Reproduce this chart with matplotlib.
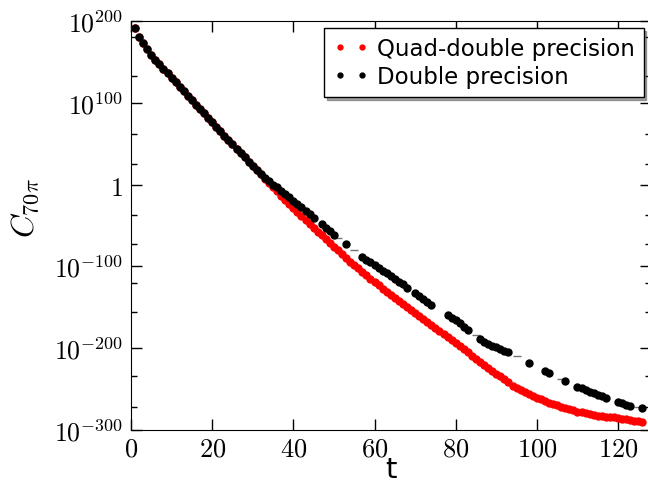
import numpy as np
import matplotlib
matplotlib.use("Agg")
import matplotlib.pyplot as plt
from matplotlib.ticker import FixedLocator, NullFormatter

plt.rcParams['mathtext.fontset'] = 'cm'
plt.rcParams['font.family'] = 'DejaVu Sans'

# time steps
t_quad = list(range(1, 127))
# log10 of C_{70pi}, quad-double precision
log_quad = [192, 181, 173, 166, 159, 152.5, 147, 141.5, 136, 130.5,
            125, 119.5, 114, 108.5, 103, 97.5, 92.5, 87, 81.5, 76,
            70.5, 65.5, 60, 54.5, 49.5, 44, 38.5, 33.5, 28, 23,
            17.5, 12.5, 7, 2, -3, -8, -13.5, -18.5, -23.5, -28.5,
            -33, -38, -43, -48, -52.5, -57.5, -62, -66.5, -71, -76,
            -80.5, -85, -89.5, -94, -98, -102.5, -107, -111, -115, -119,
            -123, -127, -131, -135, -139, -142.5, -146, -149.5, -153, -157,
            -160.5, -164, -167.5, -171.5, -175, -179, -183, -186.5, -190, -194,
            -197.5, -201, -205, -209, -213, -217, -220.5, -224, -227.5, -231,
            -234, -237.5, -241, -246, -249, -251.5, -254, -256.5, -258.5, -260.5,
            -262.5, -264.5, -266.5, -268, -270, -271.5, -273, -274.5, -276, -277.5,
            -278.5, -279.5, -280.5, -281.5, -282.5, -283, -283.5, -284, -284.5, -285.5,
            -286.5, -287, -288, -288.5, -289.5, -290]

# double precision (missing steps are absent)
t_double = [1, 2, 3, 4, 5, 6, 7, 8, 9, 10, 11, 12, 13, 14, 15, 16, 17, 18, 19, 20,
            21, 22, 23, 24, 25, 26, 27, 28, 29, 30, 31, 32, 33, 34, 35, 36, 37, 38, 39, 40,
            41, 42, 43, 44, 45, 47, 48, 49, 50, 53, 57, 58, 59, 60,
            61, 62, 63, 64, 65, 66, 67, 68, 70, 71, 72, 73, 74, 78, 79, 80,
            81, 82, 83, 86, 87, 88, 89, 90, 91, 92, 93, 98, 102, 103, 107, 110,
            111, 112, 113, 114, 115, 116, 117, 120, 121, 122, 123, 126]
log_double = [192, 181, 173, 166, 159, 152.5, 147, 141.5, 136, 130.5,
              125, 119.5, 114, 108.5, 103, 97.5, 92.5, 87, 81.5, 76,
              70.5, 65.5, 60, 54.5, 49.5, 44, 38.5, 33.5, 28, 23,
              17.5, 12.5, 8, 4, 0, -3.5, -7.5, -11.5, -15.5, -19.5,
              -23.5, -27.5, -32, -36.5, -40.5, -48.5, -53, -57, -61, -72,
              -88.5, -92, -95, -98.5,
              -102, -105, -108.5, -112, -115.5, -118.5, -122, -126, -133, -136.5,
              -140, -143.5, -147, -159, -162.5, -166,
              -169.5, -173.5, -177.5, -189, -192.5, -195, -197, -199, -201, -203,
              -205, -218, -228, -230.5, -240.5, -247,
              -249, -251, -253, -255, -257, -259, -261, -266, -267.5, -269,
              -270.5, -273.5]

# faint dashes where a double-precision step is missing
t_dash = [51, 55, 85, 95, 106, 125]
log_dash = [-65, -80, -184, -210, -238, -272]

ytick_exp = [200, 100, 0, -100, -200, -300]
ytick_labels = ['$10^{200}$', '$10^{100}$', '$1$', '$10^{-100}$', '$10^{-200}$', '$10^{-300}$']
yminor_exp = [181, 133, 62, 25, -37, -73, -120, -156, -234, -272]
xticks = [0, 20, 40, 60, 80, 100, 120]

fig = plt.figure(figsize=(6.48, 4.85), dpi=100)
ax = fig.add_axes([0.2022, 0.1113, 0.8017, 0.8433])

ax.semilogy(t_quad, 10.0 ** np.array(log_quad), 'o', color='red', mec='red', ms=5,
            label='Quad-double precision', zorder=3)
ax.semilogy(t_double, 10.0 ** np.array(log_double), 'o', color='black', mec='black', ms=5,
            label='Double precision', zorder=4)
ax.semilogy(t_dash, 10.0 ** np.array(log_dash), '_', color='0.45', ms=6, mew=1, zorder=2)

ax.set_xlim(0, 128)
ax.set_ylim(1e-300, 1e200)
ax.yaxis.set_major_locator(FixedLocator([10.0 ** e for e in ytick_exp]))
ax.set_yticklabels(ytick_labels)
ax.yaxis.set_minor_locator(FixedLocator([10.0 ** e for e in yminor_exp]))
ax.yaxis.set_minor_formatter(NullFormatter())
ax.set_xticks(xticks)
ax.set_xticklabels(['$%d$' % v for v in xticks])

ax.tick_params(which='both', direction='in', top=True, right=True)
ax.tick_params(axis='y', labelsize=18.5, pad=6)
ax.tick_params(axis='x', labelsize=19, pad=4)
ax.tick_params(which='major', length=8, width=1)
ax.tick_params(which='minor', length=4, width=1)

ax.set_xlabel('t', fontsize=21, va='baseline')
ax.xaxis.set_label_coords(0.5, -0.115)
ax.set_ylabel(r'$C_{70\pi}$', fontsize=23)
ax.yaxis.set_label_coords(-0.173, 0.545)

leg = ax.legend(loc='upper right', numpoints=2, markerscale=0.7, fontsize=16.5,
                shadow=True, fancybox=False, framealpha=1, edgecolor='black',
                borderaxespad=0.3, handlelength=1.55, handletextpad=0.35,
                labelspacing=0.22)
leg.get_frame().set_linewidth(1)

fig.savefig('out.png', dpi=100)
